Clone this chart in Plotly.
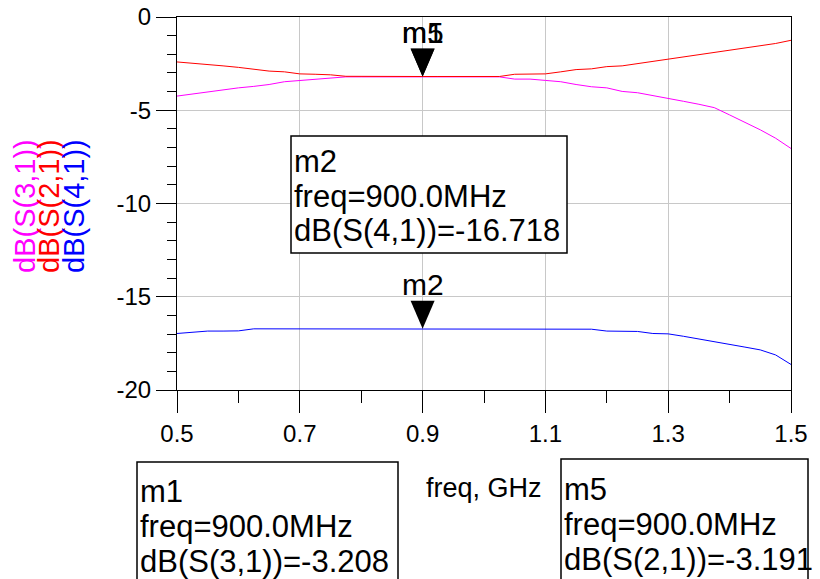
import plotly.graph_objects as go

# --- data (frequency in GHz, values in dB) ---
freq_ghz = [
    0.500, 0.525, 0.550, 0.575, 0.600, 0.625, 0.650, 0.675, 0.700, 0.725,
    0.750, 0.775, 0.800, 0.825, 0.850, 0.875, 0.900, 0.925, 0.950, 0.975,
    1.000, 1.025, 1.050, 1.075, 1.100, 1.125, 1.150, 1.175, 1.200, 1.225,
    1.250, 1.275, 1.300, 1.325, 1.350, 1.375, 1.400, 1.425, 1.450, 1.475,
    1.500,
]
s31_db = [
    -4.24, -4.13, -3.99, -3.87, -3.80, -3.72, -3.62, -3.47, -3.40, -3.35,
    -3.30, -3.21, -3.21, -3.21, -3.21, -3.21, -3.208, -3.21, -3.21, -3.21,
    -3.21, -3.21, -3.33, -3.33, -3.40, -3.47, -3.62, -3.74, -3.80, -3.99,
    -4.06, -4.20, -4.35, -4.52, -4.68, -4.86, -5.25, -5.65, -6.05, -6.50,
    -7.05,
]
s21_db = [
    -2.41, -2.47, -2.53, -2.62, -2.70, -2.80, -2.90, -2.94, -3.05, -3.07,
    -3.10, -3.18, -3.19, -3.19, -3.19, -3.19, -3.191, -3.19, -3.19, -3.19,
    -3.19, -3.19, -3.07, -3.07, -3.05, -2.94, -2.82, -2.78, -2.66, -2.62,
    -2.50, -2.40, -2.28, -2.15, -2.03, -1.91, -1.80, -1.66, -1.56, -1.42,
    -1.25,
]
s41_db = [
    -16.97, -16.92, -16.84, -16.84, -16.83, -16.72, -16.72, -16.72, -16.72, -16.72,
    -16.72, -16.72, -16.72, -16.72, -16.72, -16.72, -16.718, -16.72, -16.72, -16.72,
    -16.72, -16.72, -16.72, -16.72, -16.72, -16.72, -16.72, -16.74, -16.84, -16.84,
    -16.86, -16.97, -16.99, -17.12, -17.26, -17.38, -17.52, -17.70, -17.85, -18.12,
    -18.63,
]
trace_names = ["dB(S(3,1))", "dB(S(2,1))", "dB(S(4,1))"]
trace_colors = ["#ff00ff", "#ff0000", "#0000ff"]

x_tick_vals = [0.5, 0.7, 0.9, 1.1, 1.3, 1.5]
x_tick_text = ["0.5", "0.7", "0.9", "1.1", "1.3", "1.5"]
y_tick_vals = [-20, -15, -10, -5, 0]
y_tick_text = ["-20", "-15", "-10", "-5", "0"]

# markers: name, freq (GHz), trace, value
marker_names = ["m1", "m5", "m2"]
marker_freqs = [0.9, 0.9, 0.9]
marker_traces = ["dB(S(3,1))", "dB(S(2,1))", "dB(S(4,1))"]
marker_values = [-3.208, -3.191, -16.718]

# --- layout constants (pixels) ---
W, H = 820, 579
PL, PR, PT, PB = 177, 791, 17, 390
FONT = "Liberation Sans, Arial, sans-serif"


def paper(x, y):
    return (x - PL) / (PR - PL), (PB - y) / (PB - PT)


fig = go.Figure()

for name, ys, color in zip(trace_names, [s31_db, s21_db, s41_db], trace_colors):
    fig.add_trace(
        go.Scatter(
            x=freq_ghz,
            y=ys,
            name=name,
            mode="lines",
            line={"color": color, "width": 1},
            showlegend=False,
        )
    )

# rotated legend on the left
legend_x = [25, 49, 74]
for name, color, lx in zip(trace_names, trace_colors, legend_x):
    px, py = paper(lx, 206)
    fig.add_annotation(
        x=px, y=py, xref="paper", yref="paper",
        text=name, textangle=-90, showarrow=False,
        xanchor="center", yanchor="middle",
        font={"family": FONT, "size": 29, "color": color},
    )

# marker triangles and labels
tri_w, tri_h = 24, 28
for name, f, v in zip(marker_names, marker_freqs, marker_values):
    fig.add_shape(
        type="path", xref="x", yref="y",
        xsizemode="pixel", ysizemode="pixel",
        xanchor=f, yanchor=v,
        path=f"M {-tri_w / 2},{tri_h} L {tri_w / 2},{tri_h} L 0,0 Z",
        fillcolor="black", line={"width": 0},
    )
    fig.add_annotation(
        x=f, y=v, xref="x", yref="y", text=name, showarrow=False,
        xanchor="center", yanchor="bottom", yshift=tri_h - 2,
        font={"family": FONT, "size": 30, "color": "black"},
    )

# marker readout boxes: rect (x0, y0, x1, y1) in px, text left x, first line y
readouts = [
    ("m2", (291, 136, 567, 253), 292, 161),
    ("m1", (137, 462, 398, 600), 138, 491),
    ("m5", (561, 459, 808, 600), 562, 489),
]
line_gap = 35
for name, (x0, y0, x1, y1), tx, ty in readouts:
    i = marker_names.index(name)
    lines = [
        name,
        f"freq={marker_freqs[i] * 1000:.1f}MHz",
        f"{marker_traces[i]}={marker_values[i]:.3f}",
    ]
    px0, py0 = paper(x0, y0)
    px1, py1 = paper(x1, y1)
    fig.add_shape(
        type="rect", xref="paper", yref="paper",
        x0=px0, y0=py0, x1=px1, y1=py1,
        line={"color": "black", "width": 1.5}, fillcolor="white",
        layer="above",
    )
    for k, txt in enumerate(lines):
        ax, ay = paper(tx, ty + k * line_gap)
        fig.add_annotation(
            x=ax, y=ay, xref="paper", yref="paper", text=txt,
            showarrow=False, xanchor="left", yanchor="middle",
            font={"family": FONT, "size": 31, "color": "black"},
        )

# x axis title
tx, ty = paper(484, 488)
fig.add_annotation(
    x=tx, y=ty, xref="paper", yref="paper", text="freq, GHz",
    showarrow=False, xanchor="center", yanchor="middle",
    font={"family": FONT, "size": 27, "color": "black"},
)

axis_common = {
    "showline": True,
    "linecolor": "black",
    "linewidth": 1,
    "mirror": True,
    "ticks": "outside",
    "tickcolor": "black",
    "tickwidth": 1,
    "showgrid": True,
    "gridcolor": "#c8c8c8",
    "gridwidth": 1,
    "zeroline": False,
    "tickfont": {"family": FONT, "size": 24, "color": "black"},
    "ticklabeloverflow": "allow",
    "automargin": False,
}

fig.update_layout(
    template="none",
    width=W,
    height=H,
    margin={"l": PL, "r": W - PR, "t": PT, "b": H - PB, "pad": 0},
    paper_bgcolor="white",
    plot_bgcolor="white",
    showlegend=False,
    xaxis={
        **axis_common,
        "range": [0.5, 1.5],
        "tickmode": "array",
        "tickvals": x_tick_vals,
        "ticktext": x_tick_text,
        "ticklen": 22,
        "minor": {"tickmode": "linear", "tick0": 0.5, "dtick": 0.1,
                  "ticklen": 12, "ticks": "outside", "tickcolor": "black",
                  "showgrid": False},
    },
    yaxis={
        **axis_common,
        "range": [-20, 0],
        "tickmode": "array",
        "tickvals": y_tick_vals,
        "ticktext": y_tick_text,
        "ticklen": 20,
        "minor": {"tickmode": "linear", "tick0": 0, "dtick": 1,
                  "ticklen": 9, "ticks": "outside", "tickcolor": "black",
                  "showgrid": False},
    },
)

# drop the default 8px page margin so the figure sits at the window's corner
fig.write_html(
    "out.html",
    config={"displayModeBar": False},
    post_script="document.body.style.margin = '0';",
)
